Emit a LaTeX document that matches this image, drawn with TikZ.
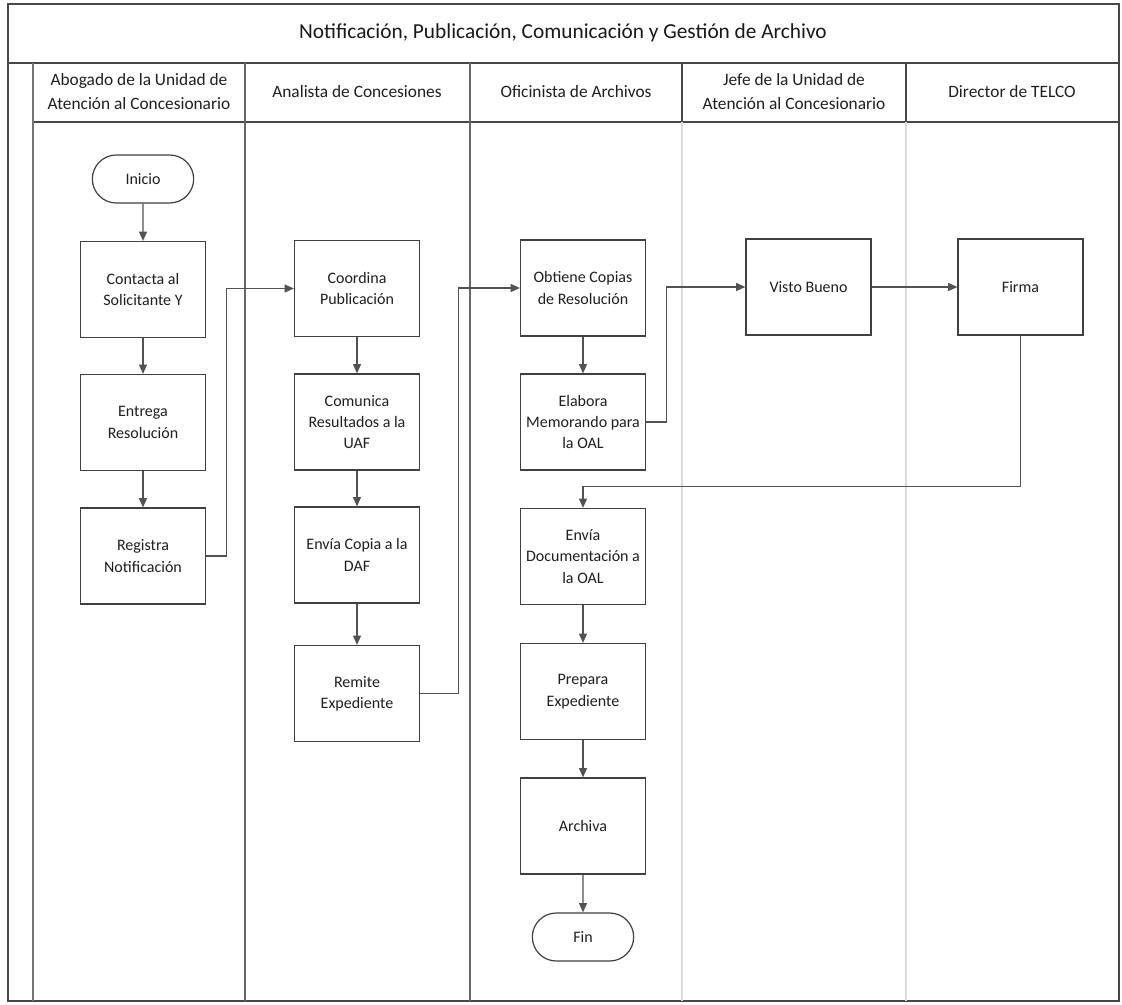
\documentclass[tikz,border=0pt]{standalone}
\usepackage{fontspec}
\setmainfont{Carlito}
\usetikzlibrary{arrows.meta,shapes.misc}
\begin{document}
\begin{tikzpicture}[x=0.75pt,y=-0.75pt,
  frameline/.style={draw=black!72,line width=1pt},
  lanefaint/.style={draw=black!14,line width=0.8pt},
  stepbox/.style={draw=black!75,line width=0.9pt,fill=white,
    minimum width=93.75pt,minimum height=72pt,inner sep=2pt,
    align=center,text=black!88,font=\fontsize{12}{16}\selectfont},
  term/.style={draw=black!75,line width=0.9pt,fill=white,rounded rectangle,
    minimum width=80pt,minimum height=36pt,inner sep=2pt,
    text=black!88,font=\fontsize{12}{16}\selectfont},
  flow/.style={draw=black!68,line width=0.8pt,-{Triangle[length=7pt,width=6pt]}},
  lanehead/.style={align=center,text=black!88,font=\fontsize{13}{18}\selectfont},
  titletext/.style={text=black!90,font=\fontsize{16}{20}\selectfont}]

% page
\useasboundingbox (0,0) rectangle (1122,1005);
\fill[white] (0,0) rectangle (1122,1005);

% pool frame, title row and header row
\draw[frameline] (8,4) rectangle (1119,1001);
\draw[frameline] (8,63) -- (1119,63);
\draw[frameline] (33,122) -- (1119,122);
\draw[frameline,draw=black!55] (33,63) -- (33,1001);
\draw[frameline,draw=black!60] (245,63) -- (245,1001);
\draw[frameline,draw=black!60] (470,63) -- (470,1001);
\draw[frameline] (682,63) -- (682,122);
\draw[frameline] (906,63) -- (906,122);
\draw[lanefaint] (682,122) -- (682,1001);
\draw[lanefaint] (906,122) -- (906,1001);

\node[titletext] (title) at (563,33) {Notificación, Publicación, Comunicación y Gestión de Archivo};

% lane headers
\node[lanehead] (h1) at (139,92) {Abogado de la Unidad de\\Atención al Concesionario};
\node[lanehead] (h2) at (357,92) {Analista de Concesiones};
\node[lanehead] (h3) at (576,92) {Oficinista de Archivos};
\node[lanehead] (h4) at (794,92) {Jefe de la Unidad de\\Atención al Concesionario};
\node[lanehead] (h5) at (1012,92) {Director de TELCO};

% Abogado lane
\node[term] (inicio) at (143,179) {Inicio};
\node[stepbox] (contacta) at (143,289.5) {Contacta al\\Solicitante Y};
\node[stepbox] (entrega) at (143,422.5) {Entrega\\Resolución};
\node[stepbox] (registra) at (143,556) {Registra\\Notificación};

% Analista lane
\node[stepbox] (coordina) at (357,288.5) {Coordina\\Publicación};
\node[stepbox] (comunica) at (357,422) {Comunica\\Resultados a la\\UAF};
\node[stepbox] (copia) at (357,555) {Envía Copia a la\\DAF};
\node[stepbox] (remite) at (357,693.5) {Remite\\Expediente};

% Oficinista lane
\node[stepbox] (obtiene) at (583,288) {Obtiene Copias\\de Resolución};
\node[stepbox] (elabora) at (583,422) {Elabora\\Memorando para\\la OAL};
\node[stepbox] (enviadoc) at (583,556.5) {Envía\\Documentación a\\la OAL};
\node[stepbox] (prepara) at (583,691.5) {Prepara\\Expediente};
\node[stepbox] (archiva) at (583,826) {Archiva};
\node[term] (fin) at (583,937) {Fin};

% Jefe and Director lanes
\node[stepbox] (visto) at (808.5,287) {Visto Bueno};
\node[stepbox] (firma) at (1020.5,287) {Firma};

% connectors
\draw[flow] (inicio) -- (contacta);
\draw[flow] (contacta) -- (entrega);
\draw[flow] (entrega) -- (registra);
\draw[flow] (registra.east) -- ++(20,0) |- (coordina.west);
\draw[flow] (coordina) -- (comunica);
\draw[flow] (comunica) -- (copia);
\draw[flow] (copia) -- (remite);
\draw[flow] (remite.east) -- ++(38,0) |- (obtiene.west);
\draw[flow] (obtiene) -- (elabora);
\draw[flow] (elabora.east) -- ++(20,0) |- (visto.west);
\draw[flow] (visto) -- (firma);
\draw[flow] (firma.south) -- ++(0,151) -| (enviadoc.north);
\draw[flow] (enviadoc) -- (prepara);
\draw[flow] (prepara) -- (archiva);
\draw[flow] (archiva) -- (fin);
\end{tikzpicture}
\end{document}
